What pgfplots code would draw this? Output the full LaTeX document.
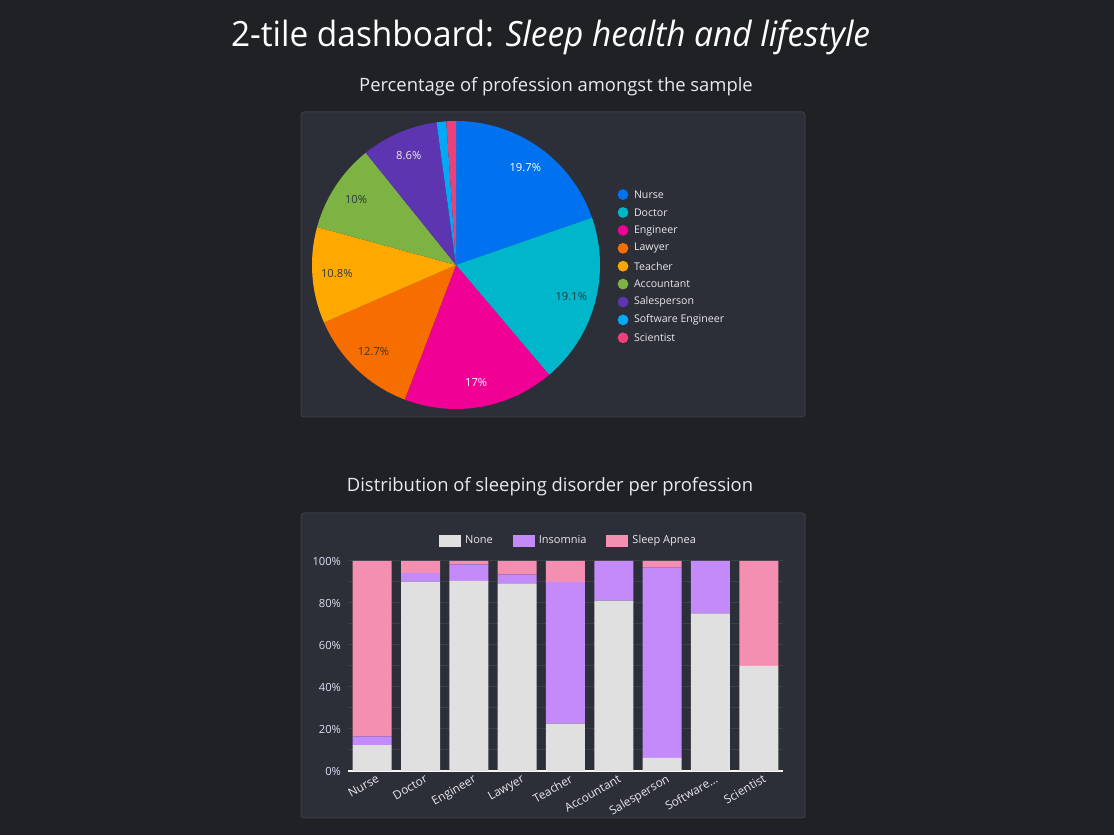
\documentclass[border=0pt]{standalone}
\usepackage{pgfplots}
\pgfplotsset{compat=1.18}
\usepackage{fontspec}
\setmainfont{Open Sans}
\newfontfamily\titlefont[FakeStretch=0.96]{Open Sans}
\definecolor{bg}{HTML}{202124}
\definecolor{panel}{HTML}{2C2E38}
\definecolor{pborder}{HTML}{3A3C46}
\definecolor{gridc}{HTML}{3C3E48}
\definecolor{txt}{HTML}{E8EAED}
\definecolor{tick}{HTML}{DCE0F0}
\definecolor{dlab}{HTML}{2E3A40}
\definecolor{pNurse}{HTML}{0072F0}
\definecolor{pDoctor}{HTML}{00B6CB}
\definecolor{pEngineer}{HTML}{F10096}
\definecolor{pLawyer}{HTML}{F66D00}
\definecolor{pTeacher}{HTML}{FFA800}
\definecolor{pAccountant}{HTML}{7CB342}
\definecolor{pSales}{HTML}{5E35B1}
\definecolor{pSoftware}{HTML}{03A9F4}
\definecolor{pScientist}{HTML}{EC407A}
\definecolor{cNone}{HTML}{E0E0E0}
\definecolor{cIns}{HTML}{C58AF9}
\definecolor{cApnea}{HTML}{F48FB1}

\pgfplotstableread{
x none insomnia apnea
0 12.33 4.11 83.56
1 90.14 4.23 5.63
2 90.48 7.94 1.59
3 89.36 4.26 6.38
4 22.50 67.50 10.00
5 81.08 18.92 0.00
6 6.25 90.62 3.13
7 75.00 25.00 0.00
8 50.00 0.00 50.00
}\disorders

\begin{document}
\begin{tikzpicture}
\fill[bg] (0,0) rectangle (557pt,417.5pt);
\node[text=white, font=\titlefont\fontsize{17.4}{21}\selectfont] at (275.3pt,399pt) {2-tile dashboard: \textit{Sleep health and lifestyle}};
\filldraw[fill=panel, draw=pborder, rounded corners=1.5pt, line width=0.5pt] (150.5pt,209pt) rectangle (402.5pt,361.5pt);
\filldraw[fill=panel, draw=pborder, rounded corners=1.5pt, line width=0.5pt] (150.5pt,8.5pt) rectangle (402.5pt,161pt);
\node[text=txt, font=\fontsize{9.2}{11}\selectfont] at (278pt,374pt) {Percentage of profession amongst the sample};
\node[text=txt, font=\fontsize{9.2}{11}\selectfont] at (275pt,174pt) {Distribution of sleeping disorder per profession};

% pie chart
\begin{axis}[at={(228pt,285pt)}, anchor=center, hide axis, scale only axis,
  x=72pt, y=72pt, xmin=-1, xmax=1, ymin=-1, ymax=1, clip=false]
\pgfplotsextra{
  \gdef\cum{0}
  \foreach \v/\c/\tc/\lab in {73/pNurse/white/19.7\%, 71/pDoctor/dlab/19.1\%, 63/pEngineer/white/17\%, 47/pLawyer/dlab/12.7\%, 40/pTeacher/dlab/10.8\%, 37/pAccountant/dlab/10\%, 32/pSales/white!85!gray/8.6\%, 4/pSoftware/white/{}, 4/pScientist/white/{}}{
    \pgfmathsetmacro\s{\cum}
    \pgfmathsetmacro\e{\s+\v}
    \pgfmathsetmacro\a{90-\s/371*360}
    \pgfmathsetmacro\b{90-\e/371*360}
    \pgfmathsetmacro\m{(\a+\b)/2}
    \fill[\c] (axis cs:0,0) -- (axis cs:{cos(\a)},{sin(\a)}) arc[start angle=\a, end angle=\b, radius=72pt] -- cycle;
    \node[text=\tc, font=\fontsize{5.6}{7}\selectfont] at (axis cs:{0.83*cos(\m)},{0.83*sin(\m)}) {\lab};
    \xdef\cum{\e}
  }
}
\end{axis}
% pie legend
\foreach \c/\n [count=\i from 0] in {pNurse/Nurse, pDoctor/Doctor, pEngineer/Engineer, pLawyer/Lawyer, pTeacher/Teacher, pAccountant/Accountant, pSales/Salesperson, pSoftware/Software Engineer, pScientist/Scientist}{
  \fill[\c] (311.5pt,{320.2pt-\i*8.95pt}) circle (2.7pt);
  \node[anchor=west, text=txt, font=\fontsize{5.3}{7}\selectfont, inner sep=0pt] at (316.8pt,{320.2pt-\i*8.95pt}) {\n};
}

% stacked bar chart
\begin{axis}[at={(174pt,32pt)}, anchor=south west, scale only axis,
  width=217.5pt, height=105pt,
  ybar stacked, bar width=19.5pt,
  xmin=-0.5, xmax=8.5, ymin=0, ymax=100,
  axis x line=bottom, axis y line=left,
  x axis line style={draw=white!92!gray, line width=0.8pt, -},
  y axis line style={draw=none},
  major tick length=0pt, minor tick length=0pt,
  xtick=data,
  xticklabels={Nurse,Doctor,Engineer,Lawyer,Teacher,Accountant,Salesperson,{Software\ldots},Scientist},
  x tick label style={rotate=30, anchor=north east, text=txt, font=\fontsize{5.9}{7}\selectfont, inner sep=1pt, xshift=2pt, yshift=-1pt},
  ytick={0,20,...,100}, minor ytick={10,30,50,70,90},
  yticklabel={\pgfmathprintnumber{\tick}\%},
  y tick label style={text=tick, font=\fontsize{5.6}{7}\selectfont},
  /pgf/number format/assume math mode=true,
  ymajorgrids, yminorgrids,
  major grid style={draw=gridc, line width=0.5pt},
  minor grid style={draw=gridc, line width=0.5pt},
  legend columns=3,
  legend style={at={(0.5,1)}, anchor=south, yshift=3pt, xshift=2pt, draw=none, fill=none, text=txt, font=\fontsize{5.5}{7}\selectfont,
    /tikz/every even column/.append style={column sep=8pt}},
  legend image code/.code={\fill[#1] (0pt,-3pt) rectangle (11pt,3pt);},
]
\addplot[fill=cNone, draw=none] table[x=x, y=none] {\disorders};
\addplot[fill=cIns, draw=none] table[x=x, y=insomnia] {\disorders};
\addplot[fill=cApnea, draw=none] table[x=x, y=apnea] {\disorders};
\legend{None, Insomnia, Sleep Apnea}
\end{axis}
\end{tikzpicture}
\end{document}
